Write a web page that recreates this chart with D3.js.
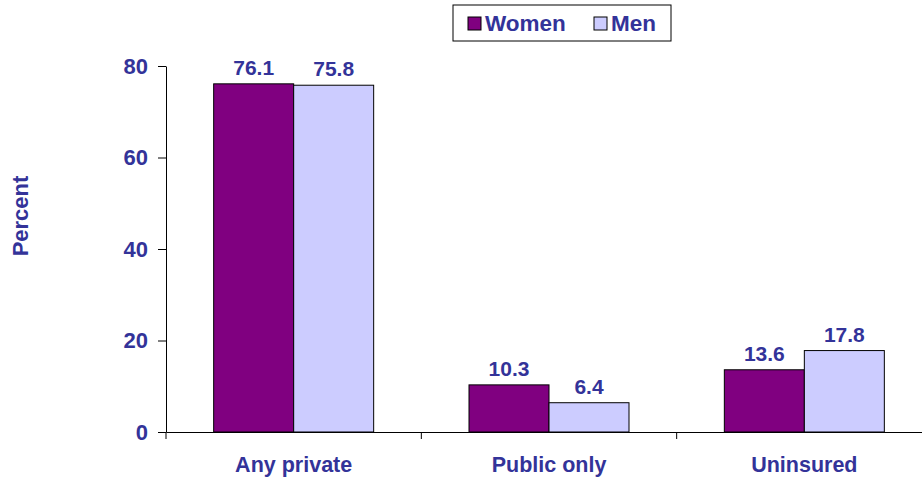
<html>
<head>
<script src="https://d3js.org/d3.v7.min.js"></script>
<style>
body { margin: 0; background: #fff; }
text { font-family: "Liberation Sans", Arial, sans-serif; font-weight: bold; fill: #333399; }
</style>
</head>
<body>
<svg width="922" height="483"></svg>
<script>
var categories = ["Any private", "Public only", "Uninsured"];
var series = ["Women", "Men"];
var women = [76.1, 10.3, 13.6];
var men = [75.8, 6.4, 17.8];
var yTicks = [0, 20, 40, 60, 80];
var colors = ["#800080", "#ccccff"];

var svg = d3.select("svg");
var x0 = 166, x1 = 932, yTop = 66, yBot = 432;

var x = d3.scaleBand().domain(categories).range([x0, x1]);
var xs = d3.scaleBand().domain(series).range([0, 160]);
var y = d3.scaleLinear().domain([0, 80]).range([yBot, yTop]);

var data = categories.map(function(c, i) {
  return { cat: c, vals: [{ s: "Women", v: women[i] }, { s: "Men", v: men[i] }] };
});

var groups = svg.selectAll("g.cat").data(data).enter().append("g")
  .attr("class", "cat")
  .attr("transform", function(d) { return "translate(" + (x(d.cat) + (x.bandwidth() - 160) / 2) + ",0)"; });

groups.selectAll("rect").data(function(d) { return d.vals; }).enter().append("rect")
  .attr("x", function(d) { return xs(d.s); })
  .attr("y", function(d) { return y(d.v); })
  .attr("width", xs.bandwidth())
  .attr("height", function(d) { return yBot - y(d.v); })
  .attr("fill", function(d, i) { return colors[i]; })
  .attr("stroke", "#000")
  .attr("stroke-width", 1);

groups.selectAll("text.val").data(function(d) { return d.vals; }).enter().append("text")
  .attr("class", "val")
  .attr("x", function(d) { return xs(d.s) + xs.bandwidth() / 2; })
  .attr("y", function(d) { return y(d.v) - 9; })
  .attr("text-anchor", "middle")
  .attr("font-size", 21)
  .text(function(d) { return d.v.toFixed(1); });

// y axis
var yAxis = svg.append("g").attr("transform", "translate(" + x0 + ",0)")
  .call(d3.axisLeft(y).tickValues(yTicks).tickSize(8).tickPadding(10).tickSizeOuter(0));
yAxis.select(".domain").attr("stroke", "#000");
yAxis.selectAll(".tick line").attr("stroke", "#000");
yAxis.selectAll(".tick text").attr("font-size", 22).attr("font-family", null).attr("fill", null);

// x axis
var xAxis = svg.append("g").attr("transform", "translate(0," + yBot + ")")
  .call(d3.axisBottom(x).tickSize(0).tickPadding(25).tickSizeOuter(0));
xAxis.select(".domain").attr("stroke", "#000");
xAxis.selectAll(".tick text").attr("font-size", 21.5).attr("font-family", null).attr("fill", null);
svg.append("g").selectAll("line").data(categories).enter().append("line")
  .attr("x1", function(d) { return x(d); })
  .attr("x2", function(d) { return x(d); })
  .attr("y1", yBot).attr("y2", yBot + 7)
  .attr("stroke", "#000");

// y title
svg.append("text")
  .attr("transform", "translate(28,216) rotate(-90)")
  .attr("text-anchor", "middle")
  .attr("font-size", 22)
  .text("Percent");

// legend
var lg = svg.append("g").attr("transform", "translate(453,5)");
lg.append("rect").attr("width", 218).attr("height", 36).attr("fill", "#fff").attr("stroke", "#000");
var li = lg.selectAll("g.item").data(series).enter().append("g")
  .attr("transform", function(d, i) { return "translate(" + (15 + i * 126) + ",0)"; });
li.append("rect").attr("y", 12).attr("width", 13).attr("height", 13)
  .attr("fill", function(d, i) { return colors[i]; }).attr("stroke", "#000");
li.append("text").attr("x", 17).attr("y", 26).attr("font-size", 22.5).text(function(d) { return d; });
</script>
</body>
</html>
